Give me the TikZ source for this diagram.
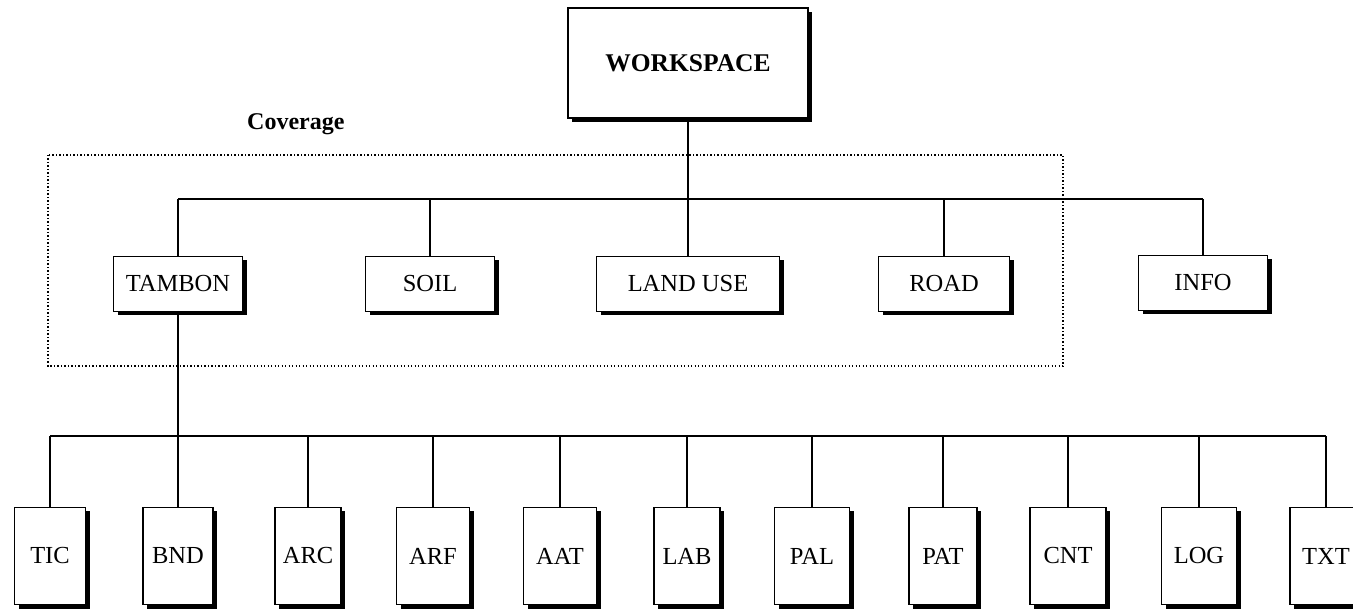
\documentclass[tikz,border=0pt]{standalone}
\usepackage{fontspec}
\setmainfont{Liberation Serif}
\usetikzlibrary{shadows}
\begin{document}
\begin{tikzpicture}[x=1pt,y=-1pt,
  box/.style={draw=black, line width=1.3pt, fill=white, inner sep=0pt,
    drop shadow={shadow xshift=4pt, shadow yshift=-4pt, fill=black, opacity=1},
    font=\fontsize{24.5}{26}\selectfont},
  midbox/.style={box, minimum height=55pt},
  lowbox/.style={box, minimum height=97pt},
  link/.style={line width=1.1pt},
  cover/.style={line width=1.3pt, dash pattern=on 1.3pt off 2.2pt}]
\useasboundingbox (0,0) rectangle (1353,609);
% top
\node[box, minimum width=240pt, minimum height=110pt, font=\fontsize{25.5}{27}\selectfont\bfseries] (ws) at (688,63) {WORKSPACE};
% coverage frame
\draw[cover] (48,155) rectangle (1063,366);
\node[anchor=base west, inner sep=0pt, font=\fontsize{24}{26}\selectfont\bfseries] (cov) at (247,130) {Coverage};
% middle row
\node[midbox, minimum width=129pt] (tambon) at (178,284) {TAMBON};
\node[midbox, minimum width=129pt] (soil) at (430,284) {SOIL};
\node[midbox, minimum width=183pt] (land) at (688,284) {LAND USE};
\node[midbox, minimum width=131pt] (road) at (944,284) {ROAD};
\node[midbox, minimum width=129pt] (info) at (1203,283) {INFO};
% bottom row
\node[lowbox, minimum width=71pt] (tic) at (50,556) {TIC};
\node[lowbox, minimum width=70pt] (bnd) at (178,556) {BND};
\node[lowbox, minimum width=66pt] (arc) at (308,556) {ARC};
\node[lowbox, minimum width=73pt] (arf) at (433,556) {ARF};
\node[lowbox, minimum width=73pt] (aat) at (560,556) {AAT};
\node[lowbox, minimum width=66pt] (lab) at (687,556) {LAB};
\node[lowbox, minimum width=75pt] (pal) at (812,556) {PAL};
\node[lowbox, minimum width=68pt] (pat) at (943,556) {PAT};
\node[lowbox, minimum width=76pt] (cnt) at (1068,556) {CNT};
\node[lowbox, minimum width=75pt] (log) at (1199,556) {LOG};
\node[lowbox, minimum width=72pt] (txt) at (1326,556) {TXT};
% connectors, upper tree
\coordinate (busA) at (0,199);
\draw[link] (ws.south) -- (ws.south |- busA);
\draw[link] (tambon.north |- busA) -- (info.north |- busA);
\foreach \n in {tambon,soil,land,road,info}
  \draw[link] (\n.north) -- (\n.north |- busA);
% connectors, lower tree
\coordinate (busB) at (0,436);
\draw[link] (tambon.south) -- (bnd.north);
\draw[link] (tic.north |- busB) -- (txt.north |- busB);
\foreach \n in {tic,arc,arf,aat,lab,pal,pat,cnt,log,txt}
  \draw[link] (\n.north) -- (\n.north |- busB);
\end{tikzpicture}
\end{document}
